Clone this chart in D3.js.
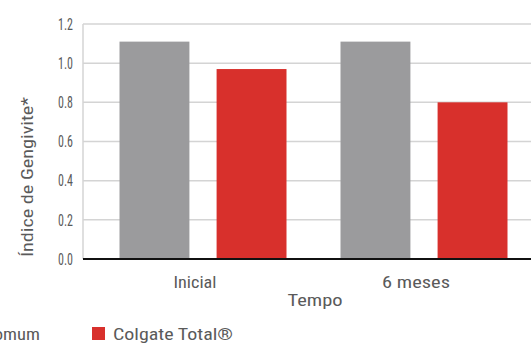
<!DOCTYPE html>
<meta charset="utf-8">
<style>
body { margin: 0; background: #fff; }
text { font-family: "Liberation Sans Narrow", "Roboto Condensed", "DejaVu Sans", sans-serif; font-stretch: condensed; fill: #5a5a5a; }
</style>
<body>
<script src="https://d3js.org/d3.v7.min.js"></script>
<script>

// data
var categories = ["Inicial", "6 meses"];
var series = ["Dentifrício comum", "Colgate Total®"];
var comum = [1.11, 1.11];
var colgate = [0.97, 0.80];
var yTicks = [0.0, 0.2, 0.4, 0.6, 0.8, 1.0, 1.2];
var colors = ["#9b9b9d", "#d8302c"];

var width = 531, height = 348;
var plotLeft = 83, plotTop = 24, plotBottom = 259;

var svg = d3.select("body").append("svg")
    .attr("width", width)
    .attr("height", height);

var y = d3.scaleLinear().domain([0, 1.2]).range([plotBottom, plotTop]);
var x0 = d3.scalePoint().domain(categories).range([plotLeft, 544]).padding(0.543);
var x1 = d3.scaleBand().domain(series).range([-83.5, 83.5]).paddingInner(0.28);

// grid lines
svg.append("g")
  .selectAll("line")
  .data(yTicks.filter(function(d) { return d > 0; }))
  .enter().append("line")
    .attr("x1", plotLeft).attr("x2", width)
    .attr("y1", function(d) { return y(d); })
    .attr("y2", function(d) { return y(d); })
    .attr("stroke", "#d4d4d4")
    .attr("stroke-width", 1.5);

// left border
svg.append("line")
    .attr("x1", plotLeft).attr("x2", plotLeft)
    .attr("y1", plotTop).attr("y2", plotBottom)
    .attr("stroke", "#d4d4d4")
    .attr("stroke-width", 1.5);

// y tick labels
svg.append("g")
  .selectAll("text")
  .data(yTicks)
  .enter().append("text")
    .attr("x", 73)
    .attr("y", function(d) { return y(d); })
    .attr("dy", "0.36em")
    .attr("text-anchor", "end")
    .attr("textLength", 15)
    .attr("lengthAdjust", "spacingAndGlyphs")
    .style("font-size", "16px")
    .text(function(d) { return d3.format(".1f")(d); });

// bars
var rows = categories.map(function(c, i) {
  return { cat: c, values: [comum[i], colgate[i]] };
});

var groups = svg.append("g")
  .selectAll("g")
  .data(rows)
  .enter().append("g")
    .attr("transform", function(d) { return "translate(" + x0(d.cat) + ",0)"; });

groups.selectAll("rect")
  .data(function(d) { return d.values.map(function(v, j) { return { s: series[j], v: v, j: j }; }); })
  .enter().append("rect")
    .attr("x", function(d) { return x1(d.s); })
    .attr("width", x1.bandwidth())
    .attr("y", function(d) { return y(d.v); })
    .attr("height", function(d) { return plotBottom - y(d.v); })
    .attr("fill", function(d) { return colors[d.j]; });

// x axis line
svg.append("line")
    .attr("x1", plotLeft).attr("x2", width)
    .attr("y1", plotBottom).attr("y2", plotBottom)
    .attr("stroke", "#111")
    .attr("stroke-width", 2);

// x labels
var labelLen = [43, 68];
svg.append("g")
  .selectAll("text")
  .data(categories)
  .enter().append("text")
    .attr("x", function(d) { return x0(d) - 8; })
    .attr("y", 288)
    .attr("text-anchor", "middle")
    .attr("textLength", function(d, i) { return labelLen[i]; })
    .attr("lengthAdjust", "spacingAndGlyphs")
    .style("font-size", "17px")
    .text(function(d) { return d; });

// axis titles
svg.append("text")
    .attr("x", 315)
    .attr("y", 306)
    .attr("text-anchor", "middle")
    .attr("textLength", 55)
    .attr("lengthAdjust", "spacingAndGlyphs")
    .style("font-size", "17px")
    .text("Tempo");

svg.append("text")
    .attr("transform", "translate(33,177) rotate(-90)")
    .attr("text-anchor", "middle")
    .attr("textLength", 160)
    .attr("lengthAdjust", "spacingAndGlyphs")
    .style("font-size", "17px")
    .text("Índice de Gengivite*");

// legend (first entry runs off the left edge, as in the source)
svg.append("text")
    .attr("x", 40).attr("y", 340)
    .attr("text-anchor", "end")
    .attr("textLength", 135)
    .attr("lengthAdjust", "spacingAndGlyphs")
    .style("font-size", "17px")
    .text(series[0]);

svg.append("rect")
    .attr("x", 92).attr("y", 327).attr("width", 13).attr("height", 13)
    .attr("fill", colors[1]);
svg.append("text")
    .attr("x", 113).attr("y", 340)
    .attr("textLength", 120)
    .attr("lengthAdjust", "spacingAndGlyphs")
    .style("font-size", "17px")
    .text(series[1]);

</script>
</body>
